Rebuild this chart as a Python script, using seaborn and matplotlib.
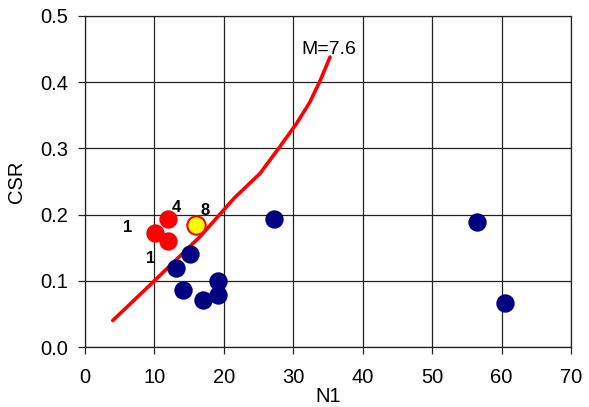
import matplotlib
matplotlib.use("Agg")
import matplotlib.pyplot as plt
import seaborn as sns

# data
curve_n1 = [4.0, 10.0, 16.6, 21.5, 25.2, 28.1, 30.5, 32.4, 33.9, 35.3]
curve_csr = [0.040, 0.100, 0.167, 0.225, 0.262, 0.303, 0.338, 0.370, 0.403, 0.438]

red_n1 = [10.1, 12.0, 12.0]
red_csr = [0.172, 0.193, 0.160]

yellow_n1 = [16.0]
yellow_csr = [0.184]

blue_n1 = [15.1, 13.1, 14.1, 17.0, 19.2, 19.2, 27.2, 56.5, 60.5]
blue_csr = [0.140, 0.119, 0.086, 0.071, 0.079, 0.100, 0.193, 0.189, 0.066]

point_labels = ["1", "4", "8", "1"]
label_n1 = [6.15, 13.1, 17.3, 9.4]
label_csr = [0.181, 0.210, 0.206, 0.134]

curve_label = "M=7.6"
x_ticks = [0, 10, 20, 30, 40, 50, 60, 70]
y_ticks = [0.0, 0.1, 0.2, 0.3, 0.4, 0.5]

sns.set_style("white")
plt.rcParams['font.family'] = ['Liberation Sans', 'DejaVu Sans']
plt.rcParams['text.color'] = 'black'
plt.rcParams['axes.labelcolor'] = 'black'
plt.rcParams['xtick.color'] = 'black'
plt.rcParams['ytick.color'] = 'black'

fig = plt.figure(figsize=(5.89, 4.07), dpi=100)
ax = fig.add_axes([0.1443, 0.1474, 0.8251, 0.8133])

sns.lineplot(x=curve_n1, y=curve_csr, ax=ax, color="#FF0000", linewidth=2.6,
             sort=False, estimator=None, zorder=3)
sns.scatterplot(x=blue_n1, y=blue_csr, ax=ax, color="#000080", s=175,
                linewidth=0, zorder=4)
sns.scatterplot(x=red_n1, y=red_csr, ax=ax, color="#FF0000", s=175,
                linewidth=0, zorder=4)
sns.scatterplot(x=yellow_n1, y=yellow_csr, ax=ax, color="#FFFF00", s=175,
                edgecolor="#FF0000", linewidth=1.5, zorder=5)

for t, xx, yy in zip(point_labels, label_n1, label_csr):
    ax.text(xx, yy, t, fontsize=12, fontweight="bold", ha="center", va="center",
            color="black", zorder=3)

ax.text(31.1, 0.449, curve_label, fontsize=14, ha="left", va="center",
        color="black", zorder=6)

ax.set_xlim(0, 70)
ax.set_ylim(0, 0.5)
ax.set_xticks(x_ticks)
ax.set_yticks(y_ticks)
ax.set_yticklabels([f"{v:.1f}" for v in y_ticks])
ax.grid(True, color="#222222", linewidth=0.9)
ax.set_axisbelow(True)
for s in ax.spines.values():
    s.set_color("#222222")
    s.set_linewidth(0.9)
ax.tick_params(axis="both", direction="out", length=5, width=0.9, color="#222222",
               labelsize=14.5, bottom=True, left=True)
ax.tick_params(axis="x", pad=10)
ax.tick_params(axis="y", pad=7)
ax.set_xlabel("N1", fontsize=14.5, labelpad=0)
ax.set_ylabel("CSR", fontsize=14.5, labelpad=10)

fig.savefig("out.png", dpi=100)
